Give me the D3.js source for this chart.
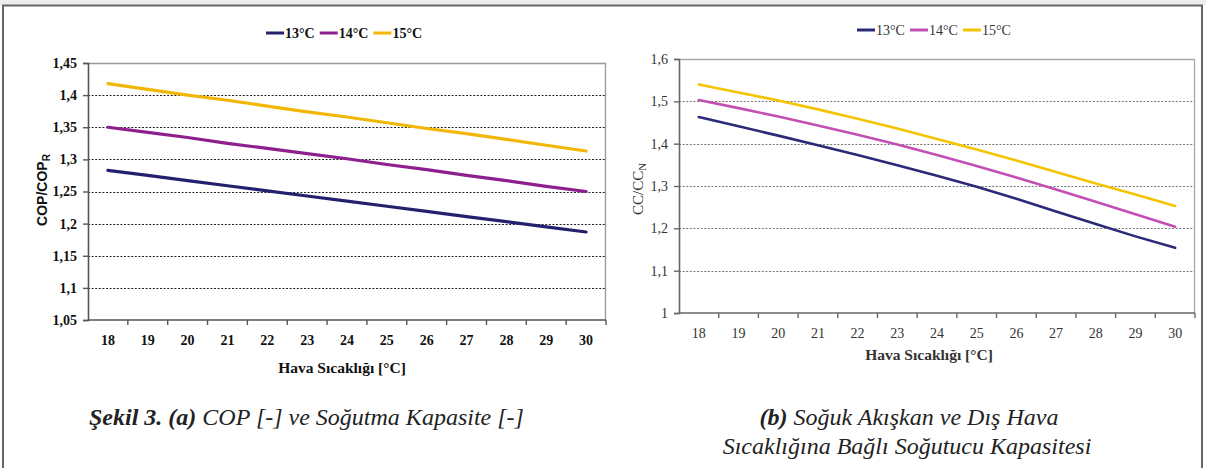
<!DOCTYPE html>
<html><head><meta charset="utf-8">
<script src="https://cdn.jsdelivr.net/npm/d3@7/dist/d3.min.js"></script>
<style>
html,body{margin:0;padding:0;background:#fff;}
svg{display:block;}
</style></head>
<body>
<svg id="c" width="1206" height="468"></svg>
<script>
const categories = [18,19,20,21,22,23,24,25,26,27,28,29,30];
const seriesNames = ["13°C","14°C","15°C"];

// Chart (a): COP/COP_R
const copS13 = [1.283,1.275,1.267,1.259,1.251,1.243,1.235,1.227,1.219,1.211,1.203,1.195,1.187];
const copS14 = [1.350,1.342,1.334,1.325,1.317,1.309,1.301,1.292,1.284,1.275,1.267,1.258,1.250];
const copS15 = [1.418,1.409,1.400,1.392,1.383,1.374,1.366,1.357,1.348,1.340,1.331,1.322,1.313];
const copTicks = [1.05,1.1,1.15,1.2,1.25,1.3,1.35,1.4,1.45];

// Chart (b): CC/CC_N
const ccS13 = [1.463,1.441,1.419,1.396,1.373,1.349,1.324,1.298,1.270,1.240,1.210,1.181,1.154];
const ccS14 = [1.503,1.484,1.464,1.443,1.421,1.398,1.373,1.347,1.320,1.292,1.263,1.233,1.204];
const ccS15 = [1.540,1.521,1.502,1.481,1.459,1.436,1.411,1.386,1.360,1.333,1.306,1.280,1.253];
const ccTicks = [1,1.1,1.2,1.3,1.4,1.5,1.6];

const SERIF = '"Liberation Serif"';
const SANS = '"Liberation Sans"';

const svg = d3.select("#c");
const fmt = v => String(+v.toFixed(2)).replace(".", ",");

function txt(sel, family, size, weight, style){
  return sel.style("font-family", family).style("font-size", size + "px")
    .style("font-weight", weight || "normal").style("font-style", style || "normal");
}

// outer frame
svg.append("rect").attr("x",0).attr("y",0).attr("width",1206).attr("height",5).attr("fill","#eeeeee");
svg.append("rect").attr("x",3).attr("y",5.5).attr("width",1199).attr("height",470)
  .attr("fill","none").attr("stroke","#666").attr("stroke-width",2);

function drawChart(o){
  const g = svg.append("g");
  const x = d3.scaleBand().domain(o.categories).range([o.left,o.right]).paddingInner(0).paddingOuter(0);
  const y = d3.scaleLinear().domain([o.ticks[0], o.ticks[o.ticks.length-1]]).range([o.bottom,o.top]);

  // gridlines
  g.selectAll("line.grid").data(o.ticks.slice(1,-1)).join("line")
    .attr("x1",o.left).attr("x2",o.right)
    .attr("y1",d=>Math.round(y(d))+0.5).attr("y2",d=>Math.round(y(d))+0.5)
    .attr("stroke",o.gridColor).attr("stroke-width",1.2).attr("stroke-dasharray","2,1.6");

  // plot border top/right
  g.append("path").attr("d",`M${o.left},${o.top+0.5}H${o.right-0.5}V${o.bottom}`)
    .attr("fill","none").attr("stroke",o.borderColor).attr("stroke-width",1.3);

  // y axis
  const ya = d3.axisLeft(y).tickValues(o.ticks).tickSize(5).tickPadding(6).tickFormat(fmt);
  const yg = g.append("g").attr("transform",`translate(${o.left},0)`).call(ya);
  yg.attr("font-family", null).attr("font-size", null);
  yg.select(".domain").attr("stroke",o.axisColor).attr("stroke-width",1.6);
  yg.selectAll(".tick line").attr("stroke",o.axisColor).attr("stroke-width",1.4);
  txt(yg.selectAll("text"), SERIF, o.tickSize, o.tickWeight).attr("fill",o.textColor);

  // x axis: labels centered, ticks at band boundaries
  const xa = d3.axisBottom(x).tickSize(0).tickPadding(o.xPad);
  const xg = g.append("g").attr("transform",`translate(0,${o.bottom})`).call(xa);
  xg.attr("font-family", null).attr("font-size", null);
  xg.select(".domain").remove();
  txt(xg.selectAll("text"), SERIF, o.tickSize, o.tickWeight).attr("fill",o.textColor);
  g.append("line").attr("x1",o.left).attr("x2",o.right).attr("y1",o.bottom).attr("y2",o.bottom)
    .attr("stroke",o.axisColor).attr("stroke-width",1.6);
  const bounds = o.categories.map(c=>x(c)).slice(1).concat([o.right]);
  g.selectAll("line.xt").data(bounds).join("line")
    .attr("x1",d=>d).attr("x2",d=>d).attr("y1",o.bottom).attr("y2",o.bottom+5)
    .attr("stroke",o.axisColor).attr("stroke-width",1.4);

  // lines
  const line = d3.line().x((d,i)=>x(o.categories[i])+x.bandwidth()/2).y(d=>y(d));
  o.series.forEach((s,i)=>{
    g.append("path").datum(s).attr("d",line).attr("fill","none")
      .attr("stroke",o.colors[i]).attr("stroke-width",o.lineWidth).attr("stroke-linecap","round");
  });

  // legend
  const lg = g.append("g");
  let lx = o.legendX;
  o.names.forEach((n,i)=>{
    lg.append("line").attr("x1",lx).attr("x2",lx+18).attr("y1",o.legendY).attr("y2",o.legendY)
      .attr("stroke",o.colors[i]).attr("stroke-width",3);
    const t = txt(lg.append("text"), SERIF, o.legendSize, o.legendWeight)
      .attr("x",lx+19).attr("y",o.legendY+4.5).attr("fill",o.textColor).text(n);
    lx += 19 + t.node().getComputedTextLength() + 5;
  });

  // x title
  txt(g.append("text"), SERIF, o.titleSize, "bold")
    .attr("x",o.xTitleX).attr("y",o.xTitleY).attr("text-anchor","middle")
    .attr("fill",o.textColor).text("Hava Sıcaklığı [°C]");

  // y title
  const yt = txt(g.append("text"), o.yTitleFont, o.yTitleSize, o.yTitleWeight)
    .attr("transform",`translate(${o.yTitleX},${o.yTitleY}) rotate(-90)`)
    .attr("text-anchor","middle").attr("fill",o.textColor);
  yt.append("tspan").text(o.yTitleMain);
  yt.append("tspan").attr("dy",3).style("font-size",(o.yTitleSize*0.72)+"px").text(o.yTitleSub);
}

drawChart({
  categories, ticks: copTicks, series:[copS13,copS14,copS15], names: seriesNames,
  left:88, right:606, top:63, bottom:320,
  colors:["#25206e","#8e1f8e","#f2b705"], lineWidth:3.2,
  gridColor:"#222", borderColor:"#999", axisColor:"#555", textColor:"#111",
  tickSize:14, tickWeight:"bold", xPad:15,
  legendX:266, legendY:33, legendSize:14, legendWeight:"bold",
  titleSize:15.5, xTitleX:342, xTitleY:373,
  yTitleX:47, yTitleY:190, yTitleFont:SANS, yTitleSize:14, yTitleWeight:"bold",
  yTitleMain:"COP/COP", yTitleSub:"R"
});

drawChart({
  categories, ticks: ccTicks, series:[ccS13,ccS14,ccS15], names: seriesNames,
  left:679, right:1195, top:59, bottom:313,
  colors:["#2b2a78","#c44fb4","#f5c400"], lineWidth:2.6,
  gridColor:"#777", borderColor:"#aaa", axisColor:"#666", textColor:"#333",
  tickSize:14, tickWeight:"normal", xPad:15,
  legendX:857, legendY:30, legendSize:14, legendWeight:"normal",
  titleSize:15.5, xTitleX:929, xTitleY:360,
  yTitleX:643, yTitleY:189, yTitleFont:SERIF, yTitleSize:15, yTitleWeight:"normal",
  yTitleMain:"CC/CC", yTitleSub:"N"
});

// captions
const c1 = txt(svg.append("text"), SERIF, 24, "normal", "italic").attr("x",89).attr("y",425).attr("fill","#222");
c1.append("tspan").style("font-weight","bold").text("Şekil 3. (a)");
c1.append("tspan").text(" COP [-] ve Soğutma Kapasite [-]");
const c2 = txt(svg.append("text"), SERIF, 24, "normal", "italic").attr("x",909).attr("y",425).attr("text-anchor","middle").attr("fill","#222");
c2.append("tspan").style("font-weight","bold").text("(b)");
c2.append("tspan").text(" Soğuk Akışkan ve Dış Hava");
txt(svg.append("text"), SERIF, 24, "normal", "italic").attr("x",907).attr("y",454).attr("text-anchor","middle").attr("fill","#222")
  .text("Sıcaklığına Bağlı Soğutucu Kapasitesi");
</script>
</body></html>
